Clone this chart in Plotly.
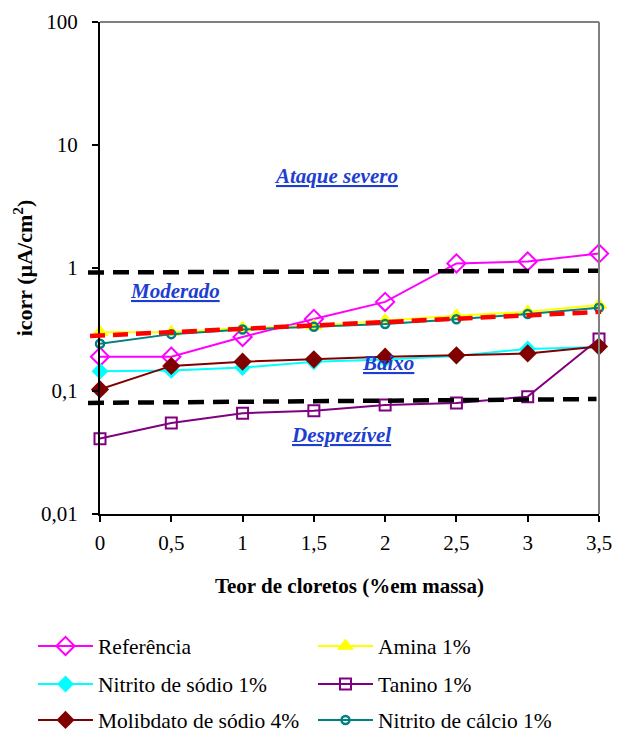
import plotly.graph_objects as go

# ---------------- data ----------------
cloretos = [0, 0.5, 1, 1.5, 2, 2.5, 3, 3.5]
referencia = [0.19, 0.19, 0.275, 0.385, 0.53, 1.09, 1.13, 1.31]
amina = [0.30, 0.30, 0.325, 0.337, 0.375, 0.41, 0.44, 0.50]
nitrito_sodio = [0.145, 0.147, 0.155, 0.173, 0.18, 0.193, 0.22, 0.228]
tanino = [0.041, 0.055, 0.066, 0.069, 0.077, 0.080, 0.090, 0.265]
molibdato = [0.103, 0.16, 0.173, 0.181, 0.19, 0.195, 0.202, 0.23]
nitrito_calcio = [0.242, 0.29, 0.316, 0.333, 0.35, 0.383, 0.423, 0.475]

# threshold / trend lines (value at left end, value at right end)
limite_superior = [0.92, 0.95]
limite_inferior = [0.08, 0.086]
tendencia = [0.28, 0.44]

x_tickvals = [0, 0.5, 1, 1.5, 2, 2.5, 3, 3.5]
x_ticktext = ["0", "0,5", "1", "1,5", "2", "2,5", "3", "3,5"]
y_tickvals = [0.01, 0.1, 1, 10, 100]
y_ticktext = ["0,01", "0,1", "1", "10", "100"]

regioes = ["Ataque severo", "Moderado", "Baixo", "Desprezível"]

FONT = "'Liberation Serif', 'Times New Roman', Times, serif"

series = [
    ("Referência", referencia, "#FF00FF", "diamond-open", 14, 2, "legend"),
    ("Amina 1%", amina, "#FFFF00", "triangle-up", 15, 0, "legend2"),
    ("Nitrito de sódio 1%", nitrito_sodio, "#00FFFF", "diamond", 13, 0, "legend3"),
    ("Tanino 1%", tanino, "#800080", "square-open", 11, 2, "legend4"),
    ("Molibdato de sódio 4%", molibdato, "#800000", "diamond", 14, 0, "legend5"),
    ("Nitrito de cálcio 1%", nitrito_calcio, "#008080", "circle-open", 8, 2.5, "legend6"),
]

fig = go.Figure()
for name, vals, color, sym, size, mlw, leg in series:
    fig.add_trace(go.Scatter(
        x=cloretos, y=vals, name=name, mode="lines+markers",
        line=dict(color=color, width=2),
        marker=dict(symbol=sym, size=size, color=color,
                    line=dict(color=color, width=mlw)),
        cliponaxis=False, legend=leg,
    ))

shapes = []
def hline(vals, color, dash, width, x0, x1):
    shapes.append(dict(type="line", xref="paper", yref="y",
                       x0=x0, x1=x1, y0=vals[0], y1=vals[1],
                       line=dict(color=color, width=width, dash=dash),
                       layer="above"))

hline(limite_superior, "black", "16px,9px", 4.5, -0.024, 1.0)
hline(limite_inferior, "black", "16px,9px", 4.5, -0.024, 0.995)
hline(tendencia, "#FF0000", "15px,8px", 4.5, -0.02, 1.004)

# gray top & right frame
shapes.append(dict(type="line", xref="paper", yref="paper", x0=0, x1=1, y0=1, y1=1,
                   line=dict(color="#808080", width=2)))
shapes.append(dict(type="line", xref="paper", yref="paper", x0=1, x1=1, y0=0, y1=1,
                   line=dict(color="#808080", width=2)))

W, H = 619, 733
ML, MR, MT, MB = 100, 20, 22, 219
pw = W - ML - MR
ph = H - MT - MB

def px(xp):
    return (xp - ML) / pw

def py(yp):
    return (H - MB - yp) / ph

ann_pos = [(336, 176), (175, 291), (388, 363), (341, 435)]
annotations = []
for txt, (ax_, ay_) in zip(regioes, ann_pos):
    annotations.append(dict(
        text="<b><i><u>" + txt + "</u></i></b>", xref="paper", yref="paper",
        x=px(ax_), y=py(ay_), xanchor="center", yanchor="middle", showarrow=False,
        font=dict(family=FONT, size=21, color="#1E3ED0")))

legend_pos = {
    "legend": (33, 646), "legend2": (313, 646),
    "legend3": (33, 684), "legend4": (313, 684),
    "legend5": (33, 720), "legend6": (313, 720),
}
legend_layouts = {}
for k, (lx, ly) in legend_pos.items():
    legend_layouts[k] = dict(
        x=px(lx), y=py(ly), xanchor="left", yanchor="middle",
        orientation="h", itemwidth=55, bgcolor="rgba(0,0,0,0)",
        font=dict(family=FONT, size=21.5, color="black"))

fig.update_layout(
    width=W, height=H,
    margin=dict(l=ML, r=MR, t=MT, b=MB, autoexpand=False),
    paper_bgcolor="white", plot_bgcolor="white",
    font=dict(family=FONT, size=21, color="black"),
    showlegend=True,
    shapes=shapes,
    annotations=annotations,
    xaxis=dict(
        range=[0, 3.5], tickvals=x_tickvals, ticktext=x_ticktext,
        showgrid=False, zeroline=False, showline=True, linecolor="black", linewidth=2,
        ticks="outside", ticklen=6, tickwidth=2, tickcolor="black",
        ticklabelstandoff=3,
        tickfont=dict(family=FONT, size=21, color="black"),
        title=dict(text="<b>Teor de cloretos (%em massa)</b>", standoff=24,
                   font=dict(family=FONT, size=21, color="black")),
    ),
    yaxis=dict(
        type="log", range=[-2, 2], tickvals=y_tickvals, ticktext=y_ticktext,
        showgrid=False, zeroline=False, showline=True, linecolor="black", linewidth=2,
        ticks="outside", ticklen=6, tickwidth=2, tickcolor="black",
        ticklabelstandoff=10,
        tickfont=dict(family=FONT, size=21, color="black"),
        title=dict(text="<b>icorr (µA/cm<sup>2</sup>)</b>", standoff=2,
                   font=dict(family=FONT, size=22, color="black")),
    ),
    **legend_layouts,
)

fig.write_html("out.html", config={"displayModeBar": False},
               post_script="document.body.style.margin='0';")
